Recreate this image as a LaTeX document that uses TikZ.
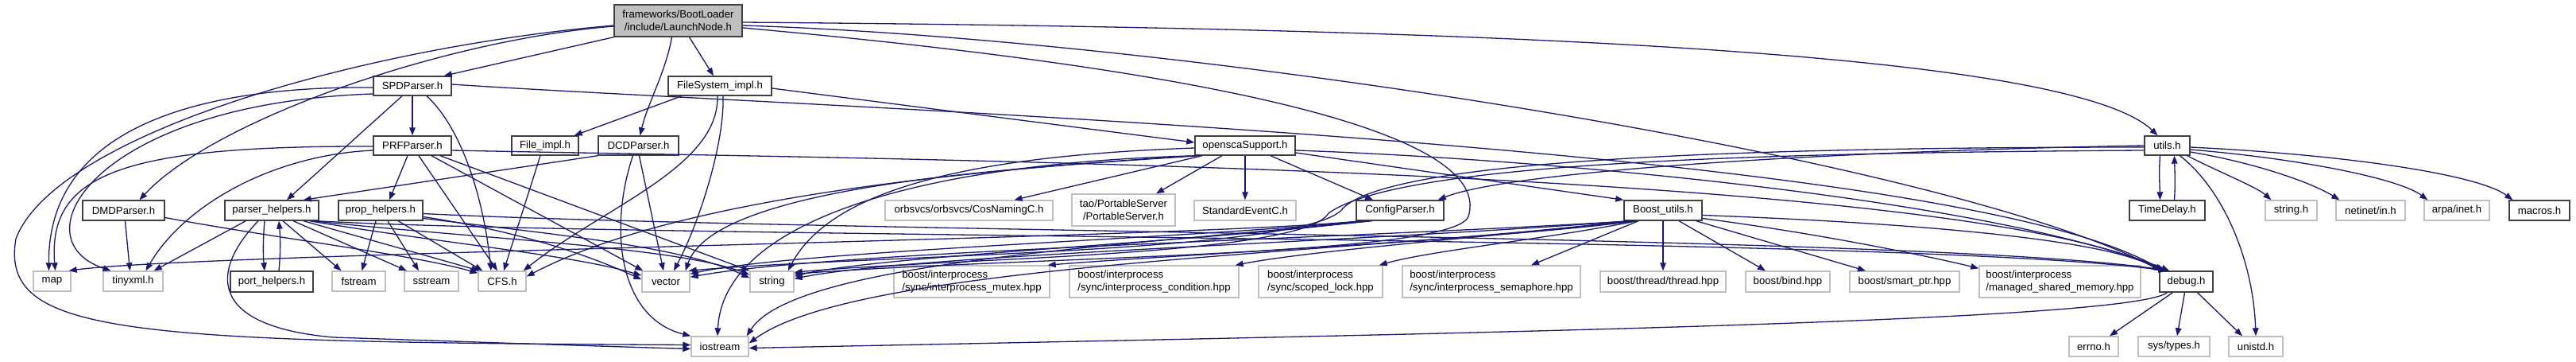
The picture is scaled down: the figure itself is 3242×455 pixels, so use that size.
\documentclass[tikz,border=0pt]{standalone}
\usepackage{fontspec}
\setmainfont{Liberation Sans}
\usetikzlibrary{arrows.meta}
\definecolor{edgec}{HTML}{191970}
\definecolor{gbord}{HTML}{BFBFBF}
\definecolor{bbord}{HTML}{404040}
\definecolor{rootf}{HTML}{BFBFBF}
\newcommand{\dxfont}{\fontsize{13.2pt}{16pt}\selectfont}
\begin{document}
\begin{tikzpicture}[x=1pt,y=-1pt,
  box/.style={rectangle, inner sep=0pt, line width=1.4pt, fill=white, font=\dxfont, align=center},
  nb/.style={box, draw=bbord},
  ng/.style={box, draw=gbord},
  ngl/.style={box, draw=gbord, align=left},
  e/.style={draw=edgec, line width=1.3pt, -{Triangle[length=10pt,width=7.5pt]}},
]
\fill[white] (0,0) rectangle (3242,455);
\useasboundingbox (0,0) rectangle (3242,455);

% ---------- nodes ----------
\node[nb, fill=rootf, minimum width=161pt, minimum height=40pt] (L) at (853.5,26) {frameworks/BootLoader\\/include/LaunchNode.h};
\node[nb, minimum width=98pt, minimum height=24pt] (SPD) at (519,108) {SPDParser.h};
\node[nb, minimum width=130pt, minimum height=24pt] (FS) at (906,108) {FileSystem\_impl.h};
\node[nb, minimum width=98pt, minimum height=24pt] (PRF) at (519,183) {PRFParser.h};
\node[nb, minimum width=84pt, minimum height=24pt] (FI) at (686,183) {File\_impl.h};
\node[nb, minimum width=101pt, minimum height=24pt] (DCD) at (803.5,183) {DCDParser.h};
\node[nb, minimum width=126pt, minimum height=24pt] (OS) at (1567,183) {openscaSupport.h};
\node[nb, minimum width=57pt, minimum height=24pt] (U) at (2727.5,183) {utils.h};
\node[nb, minimum width=103pt, minimum height=25pt] (DMD) at (155.5,264.5) {DMDParser.h};
\node[nb, minimum width=118pt, minimum height=25pt] (PH) at (342,264.5) {parser\_helpers.h};
\node[nb, minimum width=106pt, minimum height=25pt] (PP) at (479,264.5) {prop\_helpers.h};
\node[ng, minimum width=211pt, minimum height=25pt] (Cos) at (1219.5,264.5) {orbsvcs/orbsvcs/CosNamingC.h};
\node[ng, minimum width=130pt, minimum height=40pt] (PS) at (1414,264) {tao/PortableServer\\/PortableServer.h};
\node[ng, minimum width=128pt, minimum height=25pt] (SE) at (1567,264.5) {StandardEventC.h};
\node[nb, minimum width=110pt, minimum height=25pt] (CP) at (1762,264.5) {ConfigParser.h};
\node[nb, minimum width=98pt, minimum height=25pt] (BU) at (2093,264.5) {Boost\_utils.h};
\node[nb, minimum width=95pt, minimum height=25pt] (TD) at (2727.5,264.5) {TimeDelay.h};
\node[ng, minimum width=65pt, minimum height=25pt] (sh) at (2883.5,264.5) {string.h};
\node[ng, minimum width=87pt, minimum height=25pt] (ni) at (2983.5,264.5) {netinet/in.h};
\node[ng, minimum width=82pt, minimum height=25pt] (ai) at (3092,264.5) {arpa/inet.h};
\node[nb, minimum width=76pt, minimum height=25pt] (mac) at (3196,264.5) {macros.h};
\node[ng, minimum width=47pt, minimum height=25pt] (map) at (65.5,353.5) {map};
\node[ng, minimum width=75pt, minimum height=25pt] (tx) at (167.5,353.5) {tinyxml.h};
\node[nb, minimum width=104pt, minimum height=26pt] (port) at (342,354) {port\_helpers.h};
\node[ng, minimum width=67pt, minimum height=25pt] (fs) at (451.5,353.5) {fstream};
\node[ng, minimum width=68pt, minimum height=25pt] (ss) at (543,353.5) {sstream};
\node[ng, minimum width=60pt, minimum height=25pt] (CFS) at (632,353.5) {CFS.h};
\node[ng, minimum width=60pt, minimum height=26pt] (vec) at (838,354) {vector};
\node[ng, minimum width=55pt, minimum height=26pt] (str) at (971.5,354) {string};
\node[ngl, minimum width=196pt, minimum height=40pt] (mtx) at (1223,354) {boost/interprocess\\/sync/interprocess\_mutex.hpp};
\node[ngl, minimum width=213pt, minimum height=40pt] (cond) at (1452.5,354) {boost/interprocess\\/sync/interprocess\_condition.hpp};
\node[ngl, minimum width=156pt, minimum height=40pt] (slock) at (1662,354) {boost/interprocess\\/sync/scoped\_lock.hpp};
\node[ngl, minimum width=224pt, minimum height=40pt] (sem) at (1877,354) {boost/interprocess\\/sync/interprocess\_semaphore.hpp};
\node[ng, minimum width=158pt, minimum height=26pt] (thr) at (2093,354) {boost/thread/thread.hpp};
\node[ng, minimum width=106pt, minimum height=26pt] (bind) at (2250,354) {boost/bind.hpp};
\node[ng, minimum width=138pt, minimum height=26pt] (sp) at (2397,354) {boost/smart\_ptr.hpp};
\node[ngl, minimum width=203pt, minimum height=40pt] (msm) at (2592.5,354) {boost/interprocess\\/managed\_shared\_memory.hpp};
\node[nb, minimum width=67pt, minimum height=26pt] (dbg) at (2751.5,354) {debug.h};
\node[ng, minimum width=72pt, minimum height=25pt] (ios) at (906,435.5) {iostream};
\node[ng, minimum width=62pt, minimum height=25pt] (errno) at (2635,435.5) {errno.h};
\node[ng, minimum width=90pt, minimum height=25pt] (st) at (2736,435.5) {sys/types.h};
\node[ng, minimum width=68pt, minimum height=25pt] (un) at (2839,435.5) {unistd.h};

% ---------- edges: root ----------
\draw[e] (L.south west) -- ([xshift=-10pt]SPD.north east);
\draw[e] ([xshift=14pt]L.south) -- ([xshift=-8pt]FS.north);
\draw[e] ([xshift=-8pt]L.south) .. controls (838,90) and (815,130) .. ([xshift=2pt]DCD.north);
\draw[e] ([yshift=-7pt]L.west) .. controls (560,50) and (270,150) .. ([xshift=20pt]DMD.north);
\draw[e] ([yshift=-6pt]L.west) .. controls (450,60) and (70,170) .. (20,300) .. controls (0,420) and (150,430) .. ([yshift=2pt]ios.west);
\draw[e] ([yshift=-2pt]L.east) .. controls (1800,35) and (2600,60) .. ([xshift=-12pt]U.north);
\draw[e] ([yshift=-6pt]L.east) .. controls (1500,50) and (2450,200) .. ([xshift=3pt]dbg.north west);
\draw[e] ([yshift=-9pt]L.east) .. controls (1550,90) and (1880,170) .. (1848,272) .. controls (1830,322) and (1300,322) .. ([yshift=-4pt]str.north east);

% ---------- SPDParser ----------
\draw[e] (SPD.south) -- (PRF.north);
\draw[e] ([yshift=-2pt]SPD.west) .. controls (250,108) and (60,160) .. ([xshift=-4pt]map.north);
\draw[e] ([yshift=-10pt]SPD.west) .. controls (120,130) and (20,300) .. ([xshift=-28pt]tx.north);
\draw[e] ([xshift=-13pt]SPD.south) -- ([xshift=19pt]PH.north);
\draw[e] ([xshift=18pt]SPD.south) .. controls (585,165) and (610,260) .. ([xshift=-14pt]CFS.north);
\draw[e] ([yshift=2pt]SPD.east) .. controls (1000,135) and (2450,180) .. ([xshift=5pt]dbg.north west);

% ---------- PRFParser ----------
\draw[e] ([xshift=-6pt]PRF.south) -- ([xshift=11pt]PP.north);
\draw[e] ([yshift=-1pt]PRF.west) .. controls (150,183) and (60,220) .. ([xshift=4pt]map.north);
\draw[e] ([yshift=-6pt]PRF.west) .. controls (340,195) and (230,260) .. ([xshift=16pt]tx.north);
\draw[e] ([xshift=8pt]PRF.south) -- ([xshift=-6pt]CFS.north);
\draw[e] ([xshift=24pt]PRF.south) -- ([xshift=2pt]vec.north west);
\draw[e] ([xshift=35pt]PRF.south) -- (str.north west);
\draw[e] ([yshift=-6pt]PRF.east) .. controls (1100,200) and (2450,210) .. ([xshift=7pt]dbg.north west);

% ---------- parser_helpers / port_helpers ----------
\draw[e] ([xshift=-9pt]PH.south) .. controls (331,300) and (331,320) .. ([xshift=-9pt]port.north);
\draw[e] ([xshift=9pt]port.north) .. controls (353,320) and (353,300) .. ([xshift=9pt]PH.south);
\draw[e] ([xshift=27pt]PH.south west) -- ([xshift=-12pt]tx.north east);
\draw[e] ([xshift=-17pt]PH.south) .. controls (265,340) and (260,410) .. (420,424) .. controls (600,430) and (780,436) .. ([yshift=-3pt]ios.west);
\draw[e] ([xshift=14pt]PH.south) -- ([xshift=-22pt]fs.north);
\draw[e] ([xshift=27pt]PH.south) -- ([xshift=-31pt]ss.north);
\draw[e] ([xshift=40pt]PH.south) -- ([xshift=2pt]CFS.north west);
\draw[e] ([xshift=-12pt]PH.south east) .. controls (550,305) and (720,320) .. ([yshift=-6pt]vec.north west);
\draw[e] ([xshift=-8pt]PH.south east) .. controls (600,300) and (850,310) .. ([yshift=-5pt]str.north west);
\draw[e] ([xshift=-4pt]PH.south east) .. controls (800,300) and (2400,295) .. ([xshift=9pt]dbg.north west);

% ---------- prop_helpers ----------
\draw[e] ([xshift=-6pt]PP.south) -- ([xshift=4pt]fs.north);
\draw[e] ([xshift=9pt]PP.south) -- ([xshift=-16pt]ss.north);
\draw[e] ([xshift=22pt]PP.south) -- ([xshift=6pt]CFS.north west);
\draw[e] ([yshift=-8pt]PP.east) .. controls (650,290) and (740,320) .. ([yshift=-11pt]vec.north west);
\draw[e] ([yshift=-10pt]PP.east) .. controls (700,295) and (860,310) .. ([yshift=-9pt]str.north west);
\draw[e] ([yshift=-4pt]PP.east) .. controls (1000,292) and (2450,295) .. ([xshift=11pt]dbg.north west);

% ---------- DMDParser ----------
\draw[e] ([xshift=2pt]DMD.south) -- ([xshift=-4pt]tx.north);
\draw[e] ([yshift=-9pt]DMD.east) .. controls (350,300) and (520,320) .. ([yshift=-3pt]CFS.north west);

% ---------- File_impl / FileSystem_impl ----------
\draw[e] ([xshift=-6pt]FI.south) -- ([xshift=2pt]CFS.north);
\draw[e] ([xshift=-48pt]FS.south) -- ([xshift=-6pt]FI.north east);
\draw[e] ([xshift=-3pt]FS.south) .. controls (905,210) and (760,260) .. ([xshift=-4pt]CFS.north east);
\draw[e] ([xshift=4pt]FS.south) .. controls (912,180) and (880,280) .. ([xshift=10pt]vec.north);
\draw[e] ([yshift=-3pt]FS.east) -- ([yshift=4pt]OS.west);

% ---------- DCDParser ----------
\draw[e] (DCD.south west) -- ([xshift=-20pt]PH.north east);
\draw[e] ([xshift=1pt]DCD.south) -- ([xshift=-3pt]vec.north);
\draw[e] ([xshift=-7pt]DCD.south) .. controls (765,290) and (780,400) .. (ios.north west);

% ---------- openscaSupport ----------
\draw[e] ([xshift=-54pt]OS.south) -- ([xshift=57pt]Cos.north);
\draw[e] ([xshift=-29pt]OS.south) -- ([xshift=41pt]PS.north);
\draw[e] (OS.south) -- (SE.north);
\draw[e] ([xshift=32pt]OS.south) -- ([xshift=-34pt]CP.north);
\draw[e] ([yshift=-9pt]OS.east) -- (BU.north west);
\draw[e] ([xshift=-58pt]OS.south) .. controls (1300,210) and (900,230) .. ([xshift=-6pt]vec.north east);
\draw[e] ([yshift=-3pt]OS.west) .. controls (1250,195) and (1050,230) .. ([xshift=-8pt]str.north east);
\draw[e] ([xshift=-60pt]OS.south) .. controls (1150,205) and (910,280) .. ([xshift=-3pt]ios.north);
\draw[e] (OS.south west) .. controls (1200,215) and (850,250) .. ([yshift=6pt]CFS.east);
\draw[e] ([yshift=-6pt]OS.east) .. controls (1950,200) and (2500,250) .. ([xshift=13pt]dbg.north west);

% ---------- ConfigParser ----------
\draw[e] ([xshift=-50pt]CP.south) .. controls (1500,300) and (250,318) .. ([xshift=-3pt]map.north east);
\draw[e] ([xshift=-45pt]CP.south) .. controls (1500,300) and (1000,315) .. ([yshift=-4pt]vec.north east);
\draw[e] ([xshift=-40pt]CP.south) .. controls (1500,305) and (1100,322) .. ([yshift=-7pt]str.north east);
\draw[e] ([xshift=-35pt]CP.south) .. controls (1400,310) and (1000,330) .. ([xshift=-3pt]ios.north east);

% ---------- Boost_utils ----------
\draw[e] ([xshift=-35pt]BU.south) .. controls (1900,300) and (1450,322) .. ([xshift=-3pt]mtx.north east);
\draw[e] ([xshift=-37pt]BU.south) .. controls (1850,300) and (1650,315) .. ([xshift=-5pt]cond.north east);
\draw[e] ([xshift=-33pt]BU.south) .. controls (1950,300) and (1800,315) .. ([xshift=-5pt]slock.north east);
\draw[e] ([xshift=-31pt]BU.south) -- ([xshift=50pt]sem.north);
\draw[e] (BU.south) -- (thr.north);
\draw[e] ([xshift=20pt]BU.south) -- ([xshift=-28pt]bind.north);
\draw[e] ([xshift=-8pt]BU.south east) -- ([xshift=-49pt]sp.north);
\draw[e] ([yshift=-10pt]BU.east) .. controls (2300,295) and (2440,325) .. ([yshift=-4pt]msm.north west);
\draw[e] ([yshift=-6pt]BU.east) .. controls (2400,280) and (2650,300) .. ([xshift=1pt]dbg.north west);
\draw[e] ([xshift=-40pt]BU.south) .. controls (1700,300) and (1050,315) .. ([yshift=-8pt]vec.north east);
\draw[e] ([xshift=-42pt]BU.south) .. controls (1700,305) and (1150,320) .. ([yshift=-10pt]str.north east);
\draw[e] ([xshift=-44pt]BU.south) .. controls (1700,320) and (1080,330) .. ([yshift=4pt]ios.east);

% ---------- utils.h / TimeDelay.h ----------
\draw[e] ([xshift=-9pt]U.south) .. controls (2717,215) and (2718,230) .. ([xshift=-9pt]TD.north);
\draw[e] ([xshift=9pt]TD.north) .. controls (2738,230) and (2737,215) .. ([xshift=9pt]U.south);
\draw[e] ([xshift=-4pt]U.south east) .. controls (2790,215) and (2840,235) .. ([xshift=8pt]sh.north west);
\draw[e] ([yshift=-8pt]U.east) .. controls (2840,205) and (2910,230) .. ([xshift=5pt]ni.north west);
\draw[e] ([yshift=-5pt]U.east) .. controls (2900,200) and (3020,225) .. ([xshift=5pt]ai.north west);
\draw[e] ([yshift=-2pt]U.east) .. controls (2960,195) and (3120,220) .. ([xshift=5pt]mac.north west);
\draw[e] ([xshift=16pt]U.south) .. controls (2800,240) and (2836,330) .. (un.north);
\draw[e] (U.west) .. controls (2300,190) and (1900,215) .. ([xshift=-8pt]CP.north east);
\draw[e] ([yshift=-2pt]U.west) .. controls (2200,185) and (1750,200) .. (1690,262) .. controls (1650,318) and (1100,320) .. ([xshift=-2pt]vec.north east);
\draw[e] ([yshift=-6pt]U.west) .. controls (2200,192) and (1760,205) .. (1672,268) .. controls (1640,322) and (1200,324) .. ([yshift=-2pt]str.north east);

% ---------- debug.h ----------
\draw[e] ([xshift=-24pt]dbg.south) .. controls (2680,405) and (1800,420) .. ([yshift=-2pt]ios.east);
\draw[e] ([xshift=-17pt]dbg.south) -- ([xshift=20pt]errno.north);
\draw[e] ([xshift=-2pt]dbg.south) -- ([xshift=4pt]st.north);
\draw[e] ([xshift=14pt]dbg.south) -- ([xshift=-17pt]un.north);
\end{tikzpicture}
\end{document}
